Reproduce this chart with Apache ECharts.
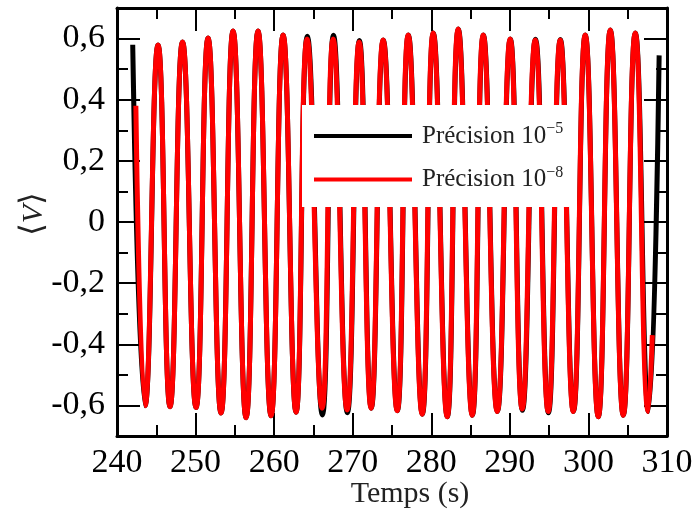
<!DOCTYPE html>
<html><head><meta charset="utf-8">
<script src="https://cdn.jsdelivr.net/npm/echarts@6/dist/echarts.min.js"></script>
<style>html,body{margin:0;padding:0;background:#fff}#c{width:693px;height:514px}</style>
</head><body><div id="c"></div>
<script>
// ---- data (time in s, <V>) ----
const timeRed = [242.40, 243.57, 245.22, 246.75, 248.34, 250.06, 251.59, 253.24, 254.77, 256.43, 257.95,
  259.61, 261.14, 262.79, 264.19, 266.10, 267.51, 269.29, 270.82, 272.34, 273.87, 275.66, 277.06,
  278.84, 280.24, 282.02, 283.42, 285.21, 286.61, 288.39, 290.04, 291.57, 293.23, 294.88, 296.41,
  298.07, 299.59, 301.25, 302.78, 304.43, 305.96, 307.62, 308.13];
const valueRed = [0.380, -0.601, 0.579, -0.604, 0.589, -0.607, 0.602, -0.625, 0.625, -0.640, 0.625,
  -0.634, 0.612, -0.622, 0.599, -0.609, 0.599, -0.615, 0.589, -0.609, 0.595, -0.617, 0.612,
  -0.629, 0.618, -0.637, 0.631, -0.632, 0.612, -0.620, 0.599, -0.612, 0.595, -0.620, 0.595,
  -0.620, 0.612, -0.637, 0.628, -0.632, 0.618, -0.620, -0.370];
const timeBlack = [242.00, 243.57, 245.22, 246.75, 248.34, 250.06, 251.59, 253.24, 254.77, 256.43, 257.95,
  259.61, 261.14, 262.79, 264.22, 266.14, 267.55, 269.32, 270.85, 272.36, 273.89, 275.68, 277.08,
  278.86, 280.26, 282.04, 283.44, 285.23, 286.63, 288.41, 290.06, 291.60, 293.26, 294.91, 296.43,
  298.09, 299.60, 301.26, 302.79, 304.44, 305.97, 307.64, 309.00];
const valueBlack = [0.580, -0.601, 0.579, -0.604, 0.589, -0.607, 0.602, -0.625, 0.625, -0.640, 0.625,
  -0.634, 0.612, -0.622, 0.608, -0.631, 0.611, -0.624, 0.594, -0.609, 0.595, -0.617, 0.612,
  -0.629, 0.618, -0.637, 0.631, -0.632, 0.612, -0.620, 0.599, -0.616, 0.598, -0.624, 0.597,
  -0.620, 0.612, -0.637, 0.628, -0.632, 0.618, -0.620, 0.545];
const xTicks = [240, 250, 260, 270, 280, 290, 300, 310];
const yMajorTicks = [-0.6, -0.4, -0.2, 0, 0.2, 0.4, 0.6];
const yMinorTicks = [-0.5, -0.3, -0.1, 0.1, 0.3, 0.5];
const legendBase = ['Précision 10', 'Précision 10'];
const legendExp = ['−5', '−8'];
const seriesNames = legendBase.map((b, i) => b + legendExp[i]);
const seriesColors = ['#000000', '#ff0000'];

const FONT = '"Liberation Serif", "DejaVu Serif", serif';
const chart = echarts.init(document.getElementById('c'), null, {renderer: 'canvas'});

const tickLine = {color: '#000', width: 2};
const frameLine = {color: '#000', width: 3};
function xAxisDef(pos, labels) {
  return {
    type: 'value', position: pos, min: xTicks[0], max: xTicks[xTicks.length - 1],
    interval: xTicks[1] - xTicks[0],
    axisLine: {show: true, onZero: false, lineStyle: frameLine},
    axisTick: {show: true, inside: true, length: 23, lineStyle: tickLine},
    minorTick: {show: true, splitNumber: 2, length: 11, lineStyle: tickLine},
    axisLabel: {show: labels, margin: 10, fontFamily: FONT, fontSize: 34, color: '#000'},
    splitLine: {show: false}, minorSplitLine: {show: false}
  };
}
function yAxisDef(pos, ticks, len, showLine, labels) {
  return {
    type: 'value', position: pos, min: -0.7, max: 0.7,
    axisLine: {show: showLine, onZero: false, lineStyle: frameLine},
    axisTick: {show: true, inside: true, length: len, lineStyle: tickLine, customValues: ticks},
    axisLabel: {show: labels, customValues: ticks, margin: 12, fontFamily: FONT, fontSize: 34, color: '#000',
      formatter: v => (Math.abs(v) < 1e-9 ? '0' : v.toFixed(1).replace('.', ','))},
    splitLine: {show: false}
  };
}

const xBottom = xAxisDef('bottom', true);
xBottom.name = 'Temps (s)';
xBottom.nameLocation = 'middle';
xBottom.nameGap = 43;
xBottom.nameMoveOverlap = false;
xBottom.nameTextStyle = {fontFamily: FONT, fontSize: 30, color: '#222', padding: [0, 0, 0, 36]};

const yLeft = yAxisDef('left', yMajorTicks, 23, true, true);
yLeft.name = '{b|⟨}{i|V}{b|⟩}';
yLeft.nameLocation = 'middle';
yLeft.nameRotate = 90;
yLeft.nameGap = 67;
yLeft.nameMoveOverlap = false;
yLeft.nameTextStyle = {color: '#222', padding: [0, 0, 0, 16], rich: {
  b: {fontFamily: FONT, fontSize: 32, color: '#222'},
  i: {fontFamily: FONT, fontSize: 30, fontStyle: 'italic', color: '#222'}
}};

chart.setOption({
  animation: false,
  backgroundColor: '#ffffff',
  grid: {left: 117, top: 8, width: 550, height: 428, containLabel: false, outerBoundsMode: 'none'},
  legend: {
    orient: 'vertical', left: 302, top: 105, padding: [16, 6, 15, 12], itemGap: 16,
    itemWidth: 98, itemHeight: 4, icon: 'rect', selectedMode: false,
    backgroundColor: '#ffffff', borderWidth: 0,
    data: seriesNames,
    formatter: name => {
      const i = seriesNames.indexOf(name);
      return '{a|' + legendBase[i] + '}{s|' + legendExp[i] + '}';
    },
    textStyle: {fontFamily: FONT, fontSize: 25, color: '#222',
      rich: {
        a: {fontFamily: FONT, fontSize: 25, lineHeight: 30, color: '#222', padding: [0, 0, 0, 5]},
        s: {fontFamily: FONT, fontSize: 16, lineHeight: 16, color: '#222', verticalAlign: 'top'}
      }}
  },
  xAxis: [xBottom, xAxisDef('top', false)],
  yAxis: [
    yLeft,
    yAxisDef('left', yMinorTicks, 11, false, false),
    yAxisDef('right', yMajorTicks, 23, true, false),
    yAxisDef('right', yMinorTicks, 11, false, false)
  ],
  series: [
    {name: seriesNames[0], type: 'line', xAxisIndex: 0, yAxisIndex: 0, smooth: true, symbol: 'none',
     color: seriesColors[0], lineStyle: {color: seriesColors[0], width: 5},
     data: timeBlack.map((t, i) => [t, valueBlack[i]])},
    {name: seriesNames[1], type: 'line', xAxisIndex: 0, yAxisIndex: 0, smooth: true, symbol: 'none',
     color: seriesColors[1], lineStyle: {color: seriesColors[1], width: 5},
     data: timeRed.map((t, i) => [t, valueRed[i]])}
  ]
});
</script></body></html>
